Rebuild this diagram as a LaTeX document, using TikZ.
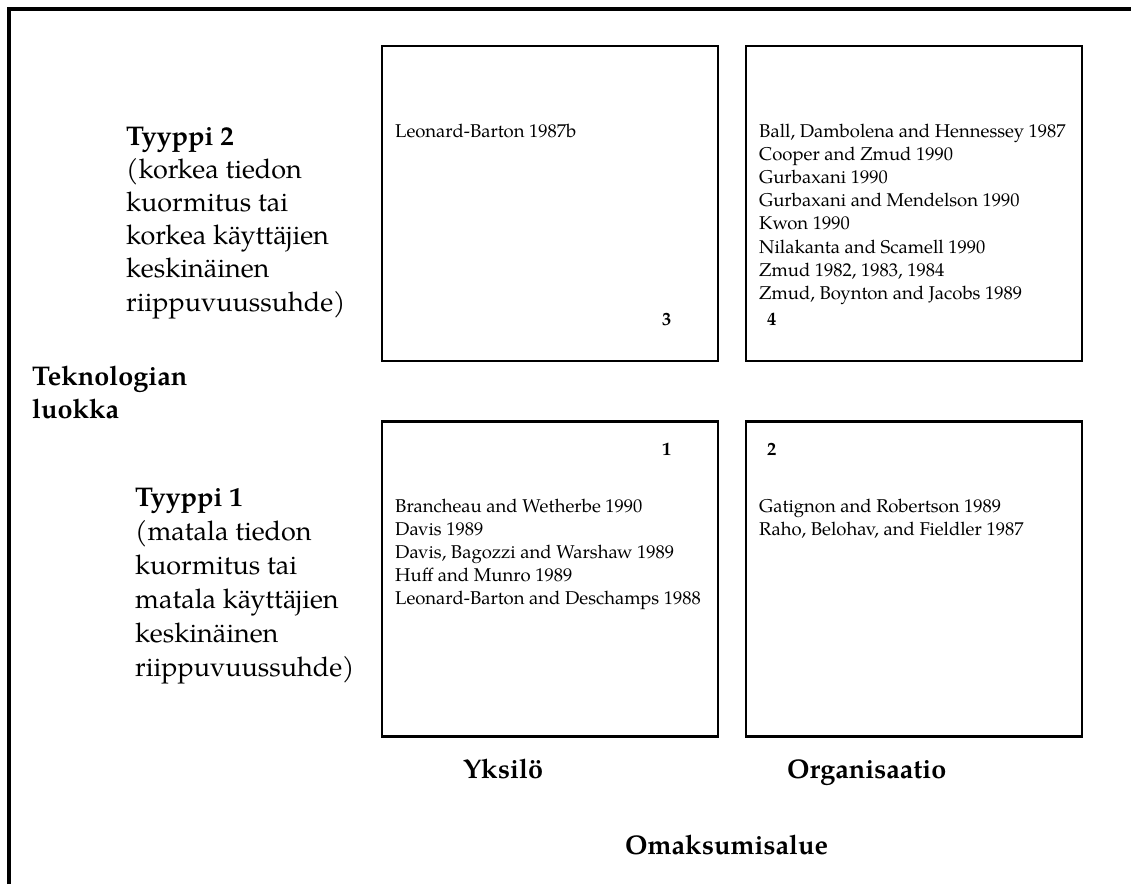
\documentclass[tikz,border=0pt]{standalone}
\usepackage{fontspec}
\setmainfont{texgyrepagella}[Extension=.otf, UprightFont=*-regular, BoldFont=*-bold, ItalicFont=*-italic, BoldItalicFont=*-bolditalic]
\begin{document}
\begin{tikzpicture}[x=1pt, y=-1pt,
  quad/.style={draw, line width=2.6pt, minimum width=336pt, minimum height=315pt, inner sep=0pt, outer sep=0pt},
  ref/.style={anchor=base west, inner sep=0pt, font=\fontsize{18.5}{22}\selectfont},
  qnum/.style={anchor=base west, inner sep=0pt, font=\fontsize{18.5}{22}\selectfont\bfseries},
  lbl/.style={anchor=base west, inner sep=0pt, font=\fontsize{27}{33}\selectfont},
  blbl/.style={anchor=base west, inner sep=0pt, font=\fontsize{27}{33}\selectfont\bfseries}]
\useasboundingbox (0,0) rectangle (1131,884);

% open frame: left and top edges only
\draw[line width=4pt] (9,884) -- (9,9) -- (1131,9);

% the four quadrants
\node[quad] (q3) at (550,203.5) {};
\node[quad] (q4) at (914,203.5) {};
\node[quad] (q1) at (550,579) {};
\node[quad] (q2) at (914,579) {};

% quadrant numbers
\node[qnum] (n3) at (662,325) {3};
\node[qnum] (n4) at (767,325) {4};
\node[qnum] (n1) at (662,455) {1};
\node[qnum] (n2) at (767,455) {2};

% quadrant 3
\node[ref] (r3a) at (395,137) {Leonard-Barton 1987b};

% quadrant 4
\foreach \t [count=\i] in {{Ball, Dambolena and Hennessey 1987},
    {Cooper and Zmud 1990}, {Gurbaxani 1990},
    {Gurbaxani and Mendelson 1990}, {Kwon 1990},
    {Nilakanta and Scamell 1990}, {Zmud 1982, 1983, 1984},
    {Zmud, Boynton and Jacobs 1989}}
  \node[ref] (r4-\i) at (759,{137+23.2*(\i-1)}) {\t};

% quadrant 1
\foreach \t [count=\i] in {{Brancheau and Wetherbe 1990}, {Davis 1989},
    {Davis, Bagozzi and Warshaw 1989}, {Huff and Munro 1989},
    {Leonard-Barton and Deschamps 1988}}
  \node[ref] (r1-\i) at (395,{512+23.2*(\i-1)}) {\t};

% quadrant 2
\foreach \t [count=\i] in {{Gatignon and Robertson 1989},
    {Raho, Belohav, and Fieldler 1987}}
  \node[ref] (r2-\i) at (759,{512+23.2*(\i-1)}) {\t};

% row labels
\node[blbl] (t2) at (126,145) {Tyyppi 2};
\foreach \t [count=\i] in {{(korkea tiedon}, {kuormitus tai},
    {korkea käyttäjien}, {keskinäinen}, {riippuvuussuhde)}}
  \node[lbl] (t2-\i) at (126,{145+33.2*\i}) {\t};

\node[blbl] (ax) at (32,385) {Teknologian};
\node[blbl] (ax2) at (32,418) {luokka};

\node[blbl] (t1) at (135,506) {Tyyppi 1};
\foreach \t [count=\i] in {{(matala tiedon}, {kuormitus tai},
    {matala käyttäjien}, {keskinäinen}, {riippuvuussuhde)}}
  \node[lbl] (t1-\i) at (135,{506+34*\i}) {\t};

% column labels
\node[blbl] (c1) at (463,778) {Yksilö};
\node[blbl] (c2) at (787,778) {Organisaatio};
\node[blbl] (cax) at (625,854) {Omaksumisalue};
\end{tikzpicture}
\end{document}
